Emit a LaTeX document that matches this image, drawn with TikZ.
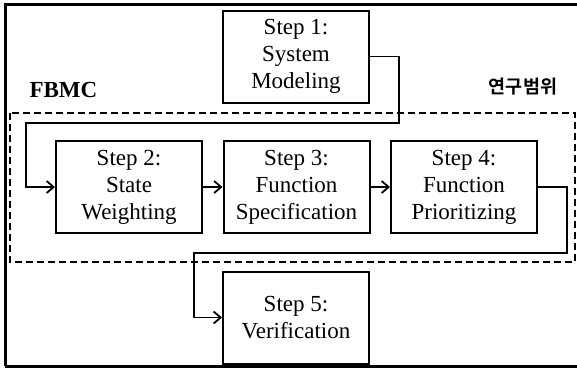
\documentclass[tikz,border=0pt]{standalone}
\usepackage{fontspec}
\setmainfont{Liberation Serif}
\newfontfamily\timesfont{Liberation Serif}
\newfontfamily\krfont{Noto Sans CJK KR}[BoldFont={Noto Sans CJK KR Bold}]
\usetikzlibrary{arrows.meta}

\begin{document}
\begin{tikzpicture}[x=1pt,y=-1pt,
  stepbox/.style={draw, line width=2pt, minimum width=146pt, minimum height=92pt,
    inner sep=0pt, align=center, font=\timesfont\fontsize{23}{27}\selectfont},
  flow/.style={line width=1.8pt, -{Straight Barb[length=7pt,width=12pt]}},
  scopebox/.style={line width=2.6pt, dash pattern=on 7pt off 4pt}]

 \useasboundingbox (0,0) rectangle (577,368);

 % boundary
 \draw[line width=3pt] (5,366) -- (5,4) -- (600,4);
 \draw[line width=3pt] (5,366) -- (600,366);
 \draw[scopebox] (10,113) rectangle (575,262);

 % nodes
 \node[stepbox] (s1) at (296,56.5) {Step 1:\\System\\Modeling};
 \node[stepbox] (s2) at (129,187) {Step 2:\\State\\Weighting};
 \node[stepbox] (s3) at (296.5,187) {Step 3:\\Function\\Specification};
 \node[stepbox] (s4) at (464,187) {Step 4:\\Function\\Prioritizing};
 \node[stepbox] (s5) at (296,317.5) {Step 5:\\Verification};

 % bends
 \coordinate (c1) at (399,123);
 \coordinate (c2) at (26,123);
 \coordinate (c3) at (567,253);
 \coordinate (c4) at (194,253);

 % arrows
 \draw[flow] (s1.east) -| (c1) -- (c2) |- (s2.west);
 \draw[flow] (s2) -- (s3);
 \draw[flow] (s3) -- (s4);
 \draw[flow] (s4.east) -| (c3) -- (c4) |- (s5.west);

 % legend
 \node[anchor=base west, font=\timesfont\fontsize{23}{27}\selectfont\bfseries] (fbmc) at (26,97) {FBMC};
 \node[font=\krfont\fontsize{18.5}{20}\selectfont\bfseries] (scope) at (523,87) {연구범위};
\end{tikzpicture}
\end{document}
